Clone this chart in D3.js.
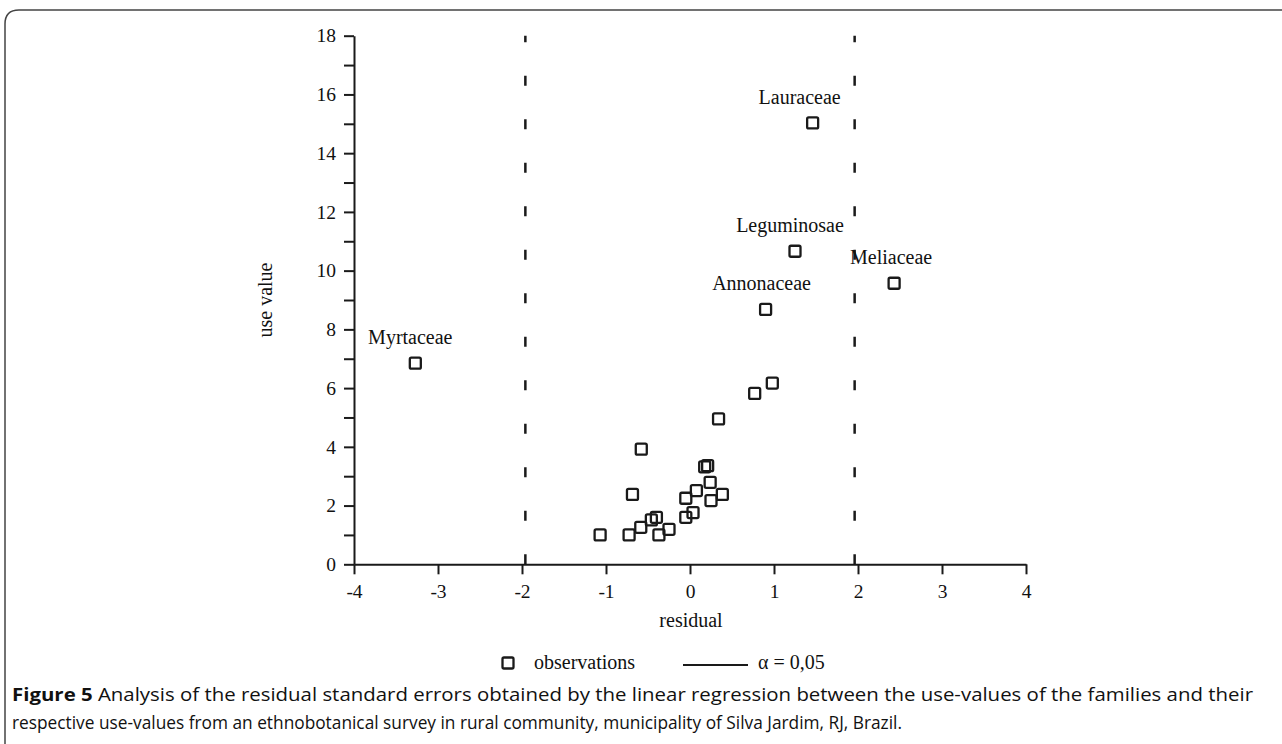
<!DOCTYPE html>
<html><head><meta charset="utf-8">
<script src="https://cdn.jsdelivr.net/npm/d3@7"></script>
<style>body{margin:0;background:#fff}</style>
</head><body>
<svg id="c" width="1282" height="744"></svg>
<script>
// ---- data ----
const families = ["Myrtaceae","Lauraceae","Leguminosae","Meliaceae","Annonaceae",
  "","","","","","","","","","","","","","","","","","","","",""];
const residuals = [-3.27, 1.46, 1.25, 2.43, 0.90,
  0.98, 0.77, 0.34, -0.58, -0.685, -1.07, -0.725, -0.586, -0.46, -0.40, -0.37, -0.25,
  -0.05, 0.036, -0.05, 0.076, 0.24, 0.385, 0.25, 0.175, 0.21];
const useValues = [6.85, 15.03, 10.66, 9.57, 8.68,
  6.17, 5.82, 4.95, 3.92, 2.38, 1.0, 1.0, 1.26, 1.51, 1.60, 1.0, 1.19,
  1.60, 1.76, 2.25, 2.51, 2.79, 2.38, 2.17, 3.32, 3.36];
const xTicks = [-4,-3,-2,-1,0,1,2,3,4];
const yTicks = [0,1,2,3,4,5,6,7,8,9,10,11,12,13,14,15,16,17,18];
const criticalValues = [-1.96, 1.96];
const legendItems = ["observations", "α = 0,05"];
const captionBold = "Figure 5";
const captionLines = [" Analysis of the residual standard errors obtained by the linear regression between the use-values of the families and their",
  "respective use-values from an ethnobotanical survey in rural community, municipality of Silva Jardim, RJ, Brazil."];

// ---- drawing ----
const svg = d3.select("#c");
const ink = "#1a1a1a";
const serif = "'Liberation Serif','Times New Roman',serif";

// frame
svg.append("path")
  .attr("d", "M5,744 L5,24 Q5,10 19,10 L1282,10")
  .attr("fill","none").attr("stroke","#444").attr("stroke-width",1.5);

const x = d3.scaleLinear().domain([-4,4]).range([354,1026]);
const y = d3.scaleLinear().domain([0,18]).range([564.3,35.7]);

// critical lines
svg.selectAll("line.crit").data(criticalValues).join("line")
  .attr("class","crit")
  .attr("x1",d=>x(d)).attr("x2",d=>x(d))
  .attr("y1",y(0)).attr("y2",y(18))
  .attr("stroke",ink).attr("stroke-width",2.5)
  .attr("stroke-dasharray","10,33.5");

// axes
const yAxis = d3.axisLeft(y).tickValues(yTicks).tickSize(10).tickSizeOuter(0).tickPadding(8)
  .tickFormat(d => d % 2 === 0 ? String(d) : "");
const gy = svg.append("g").attr("transform",`translate(${x(-4)},0)`).call(yAxis);
const xAxis = d3.axisBottom(x).tickValues(xTicks).tickSize(10).tickSizeOuter(0).tickPadding(9.5)
  .tickFormat(d => String(d));
const gx = svg.append("g").attr("transform",`translate(0,${y(0)})`).call(xAxis);
[gx, gy].forEach(g => {
  g.select(".domain").attr("stroke",ink).attr("stroke-width",2);
  g.selectAll(".tick line").attr("stroke",ink).attr("stroke-width",2);
  g.selectAll(".tick text").attr("fill","#111").style("font-family",serif).style("font-size","19.5px");
});

// axis titles
svg.append("text").attr("x",691).attr("y",627).attr("text-anchor","middle")
  .style("font-family",serif).style("font-size","20px").attr("fill","#111").text("residual");
svg.append("text").attr("transform","translate(272,300) rotate(-90)").attr("text-anchor","middle")
  .style("font-family",serif).style("font-size","20px").attr("fill","#111").text("use value");

// points
const pts = residuals.map((r,i)=>({r, u:useValues[i], name:families[i]}));
svg.selectAll("rect.pt").data(pts).join("rect")
  .attr("class","pt")
  .attr("x",d=>x(d.r)-5.5).attr("y",d=>y(d.u)-5.5)
  .attr("width",11).attr("height",11).attr("rx",1.5)
  .attr("fill","none").attr("stroke",ink).attr("stroke-width",2.3);

// labels
const labelShift = {Lauraceae:-13, Leguminosae:-5, Annonaceae:-4, Meliaceae:-3, Myrtaceae:-5};
svg.selectAll("text.lab").data(pts.filter(d=>d.name)).join("text")
  .attr("class","lab")
  .attr("x",d=>x(d.r)+(labelShift[d.name]||0)).attr("y",d=>y(d.u)-19)
  .attr("text-anchor","middle")
  .style("font-family",serif).style("font-size","20px").attr("fill","#111")
  .text(d=>d.name);

// legend
svg.append("rect").attr("x",502.5).attr("y",657.5).attr("width",11).attr("height",11).attr("rx",1.5)
  .attr("fill","none").attr("stroke",ink).attr("stroke-width",2.3);
svg.append("text").attr("x",534).attr("y",669).style("font-family",serif).style("font-size","20px")
  .attr("fill","#111").text(legendItems[0]);
svg.append("line").attr("x1",683).attr("x2",748).attr("y1",665).attr("y2",665)
  .attr("stroke",ink).attr("stroke-width",2);
svg.append("text").attr("x",758).attr("y",669).style("font-family",serif).style("font-size","20px")
  .attr("fill","#111").text(legendItems[1]);

// caption
const sans = "'Open Sans','Noto Sans',sans-serif";
const c1 = svg.append("text").attr("x",12).attr("y",701)
  .style("font-family",sans).style("font-size","18.5px").attr("fill","#111")
  .attr("textLength",1241).attr("lengthAdjust","spacingAndGlyphs");
c1.append("tspan").style("font-weight","bold").text(captionBold);
c1.append("tspan").text(captionLines[0]);
svg.append("text").attr("x",12).attr("y",729)
  .style("font-family",sans).style("font-size","18.5px").attr("fill","#111")
  .attr("textLength",890).attr("lengthAdjust","spacingAndGlyphs")
  .text(captionLines[1]);
</script>
</body></html>
